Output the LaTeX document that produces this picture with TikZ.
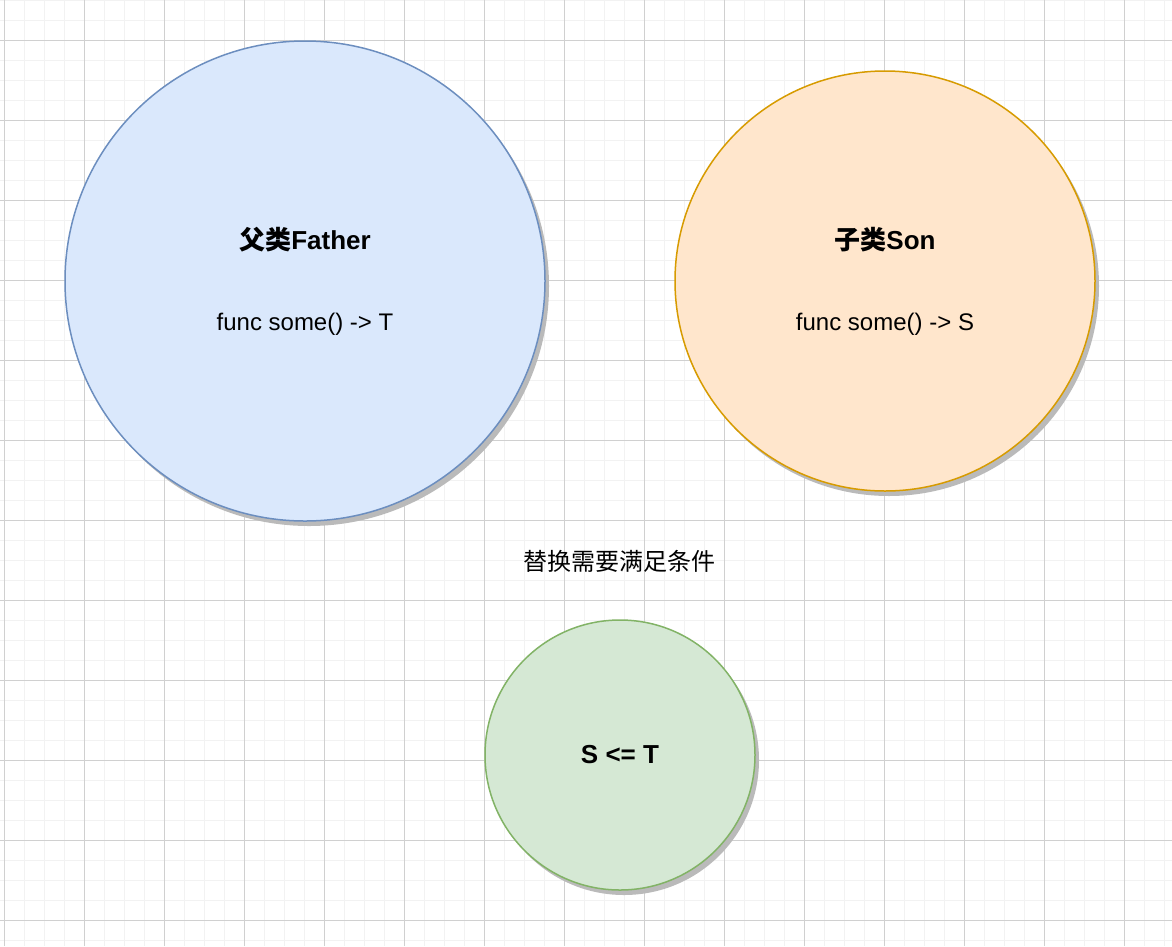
\documentclass[tikz,border=0pt]{standalone}
\usepackage{fontspec}
\setmainfont{Liberation Sans}
\newfontfamily\cjk{Noto Sans CJK SC}
\usetikzlibrary{positioning, shadows}
\definecolor{gridminor}{HTML}{F2F2F2}
\definecolor{gridmajor}{HTML}{D0D0D0}
\definecolor{fatherfill}{HTML}{DAE8FC}
\definecolor{fatherline}{HTML}{6C8EBF}
\definecolor{sonfill}{HTML}{FFE6CC}
\definecolor{sonline}{HTML}{D79B00}
\definecolor{rulefill}{HTML}{D5E8D4}
\definecolor{ruleline}{HTML}{82B366}
\newcommand{\titlefont}{\fontsize{26}{28}\selectfont\bfseries}

\begin{document}
\begin{tikzpicture}[x=1pt, y=-1pt, align=center, font=\fontsize{24}{28}\selectfont,
  class/.style={circle, draw, line width=1.5pt, inner sep=0pt,
    drop shadow={shadow xshift=4pt, shadow yshift=-5pt, fill=black!27, opacity=1}}]
\useasboundingbox (0,0) rectangle (1172,946);
\fill[white] (0,0) rectangle (1172,946);
% background grid
\begin{scope}[shift={(4,0)}]
\draw[gridminor, line width=1pt, step=20pt] (-4,0) grid (1168,946);
\end{scope}
\begin{scope}[shift={(4,40)}]
\draw[gridmajor, line width=1pt, step=80pt] (-4,-40) grid (1168,906);
\end{scope}
% classes
\node[class, draw=fatherline, fill=fatherfill, minimum size=480pt] at (305,281) (father)
  {{\titlefont{\cjk 父类}Father}\\[53pt]func some() -> T};
\node[class, draw=sonline, fill=sonfill, minimum size=420pt] at (885,281) (son)
  {{\titlefont{\cjk 子类}Son}\\[53pt]func some() -> S};
\node at (619,561) (cond) {\cjk 替换需要满足条件};
\node[class, draw=ruleline, fill=rulefill, minimum size=270pt] at (620,755) (rule)
  {\titlefont S <= T};
\end{tikzpicture}
\end{document}
